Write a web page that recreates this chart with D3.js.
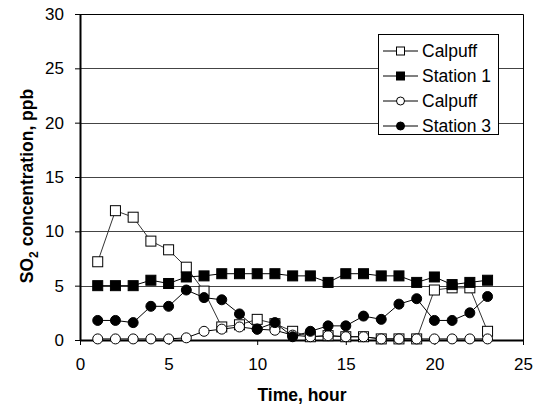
<!DOCTYPE html>
<html>
<head>
<meta charset="utf-8">
<script src="https://cdn.jsdelivr.net/npm/d3@7"></script>
<style>
  body { margin: 0; background: #fff; }
  svg text { font-family: "Liberation Sans", Arial, sans-serif; }
</style>
</head>
<body>
<svg id="chart" width="544" height="407"></svg>
<script>
var hours = [1, 2, 3, 4, 5, 6, 7, 8, 9, 10, 11, 12, 13, 14, 15, 16, 17, 18, 19, 20, 21, 22, 23];
var calpuff1 = [7.2, 11.9, 11.3, 9.1, 8.3, 6.7, 4.5, 1.2, 1.4, 1.9, 1.5, 0.8, 0.3, 0.4, 0.3, 0.3, 0.1, 0.1, 0.1, 4.6, 4.8, 4.8, 0.8];
var station1 = [5.0, 5.0, 5.0, 5.5, 5.2, 5.8, 5.9, 6.1, 6.1, 6.1, 6.1, 5.9, 5.9, 5.3, 6.1, 6.1, 5.9, 5.9, 5.3, 5.8, 5.1, 5.3, 5.5];
var calpuff3 = [0.1, 0.1, 0.1, 0.1, 0.1, 0.2, 0.8, 1.0, 1.2, 1.0, 0.9, 0.45, 0.3, 0.4, 0.3, 0.3, 0.1, 0.1, 0.1, 0.1, 0.1, 0.1, 0.1];
var station3 = [1.8, 1.8, 1.6, 3.1, 3.1, 4.6, 3.9, 3.7, 2.4, 1.0, 1.6, 0.3, 0.8, 1.3, 1.3, 2.2, 1.9, 3.3, 3.8, 1.8, 1.8, 2.5, 4.0];
var xTicks = [0, 5, 10, 15, 20, 25];
var yTicks = [0, 5, 10, 15, 20, 25, 30];

var series = [
  {name: 'Calpuff', values: calpuff1, shape: 'square', fill: '#fff'},
  {name: 'Station 1', values: station1, shape: 'square', fill: '#000'},
  {name: 'Calpuff', values: calpuff3, shape: 'circle', fill: '#fff'},
  {name: 'Station 3', values: station3, shape: 'circle', fill: '#000'}
];

var svg = d3.select('#chart');
var plot = {l: 80, r: 523, t: 14, b: 340};

var x = d3.scaleLinear().domain([0, 25]).range([plot.l, plot.r]);
var y = d3.scaleLinear().domain([0, 30]).range([plot.b, plot.t]);

// gridlines
svg.append('g')
  .selectAll('line')
  .data(yTicks.filter(function(d) { return d > 0 && d < 30; }))
  .enter().append('line')
  .attr('x1', plot.l).attr('x2', plot.r)
  .attr('y1', function(d) { return Math.round(y(d)) + 0.5; })
  .attr('y2', function(d) { return Math.round(y(d)) + 0.5; })
  .attr('stroke', '#444').attr('stroke-width', 1);

// frame top and right
svg.append('path')
  .attr('d', 'M' + plot.l + ',' + (plot.t + 0.5) + 'H' + (plot.r + 0.5) + 'V' + plot.b)
  .attr('fill', 'none').attr('stroke', '#000').attr('stroke-width', 1);

// axes
var xAxis = svg.append('g')
  .attr('transform', 'translate(0,' + plot.b + ')')
  .call(d3.axisBottom(x).tickValues(xTicks).tickSize(5).tickPadding(13).tickSizeOuter(0));
var yAxis = svg.append('g')
  .attr('transform', 'translate(' + plot.l + ',0)')
  .call(d3.axisLeft(y).tickValues(yTicks).tickSize(5).tickPadding(11).tickSizeOuter(0));

[xAxis, yAxis].forEach(function(a) {
  a.select('.domain').attr('stroke', '#000').attr('stroke-width', 2);
  a.selectAll('.tick line').attr('stroke', '#000');
  a.selectAll('.tick text').attr('font-size', 17).attr('fill', '#000')
    .style('font-family', '"Liberation Sans", Arial, sans-serif');
});

// series
var line = d3.line()
  .x(function(d) { return x(d[0]); })
  .y(function(d) { return y(d[1]); });

function marker(g, shape, fill, size) {
  if (shape === 'square') {
    g.append('rect')
      .attr('x', -size / 2).attr('y', -size / 2)
      .attr('width', size).attr('height', size)
      .attr('fill', fill).attr('stroke', '#000').attr('stroke-width', 1);
  } else {
    g.append('circle')
      .attr('r', size / 2)
      .attr('fill', fill).attr('stroke', '#000').attr('stroke-width', 1);
  }
}

series.forEach(function(s) {
  var pts = hours.map(function(h, i) { return [h, s.values[i]]; });
  var g = svg.append('g');
  g.append('path')
    .attr('d', line(pts))
    .attr('fill', 'none')
    .attr('stroke', s.fill === '#fff' && s.shape === 'square' ? '#333' : '#000')
    .attr('stroke-width', 1);
  pts.forEach(function(p) {
    var m = g.append('g').attr('transform', 'translate(' + x(p[0]) + ',' + y(p[1]) + ')');
    marker(m, s.shape, s.fill, 10);
  });
});

// legend
var lg = svg.append('g');
lg.append('rect')
  .attr('x', 378.5).attr('y', 34.5).attr('width', 120).attr('height', 100)
  .attr('fill', '#fff').attr('stroke', '#000').attr('stroke-width', 1);
series.forEach(function(s, i) {
  var cy = 51 + i * 25;
  lg.append('line').attr('x1', 383).attr('x2', 418).attr('y1', cy).attr('y2', cy)
    .attr('stroke', '#000').attr('stroke-width', 1);
  var m = lg.append('g').attr('transform', 'translate(400.5,' + cy + ')');
  marker(m, s.shape, s.fill, 8);
  lg.append('text').attr('x', 422).attr('y', cy + 6)
    .attr('font-size', 17.5).text(s.name);
});

// axis titles
svg.append('text')
  .attr('x', 302).attr('y', 401)
  .attr('text-anchor', 'middle').attr('font-size', 17.5).attr('font-weight', 'bold')
  .text('Time, hour');

var yt = svg.append('text')
  .attr('transform', 'translate(33,186) rotate(-90)')
  .attr('text-anchor', 'middle').attr('font-size', 17.5).attr('font-weight', 'bold');
yt.append('tspan').text('SO');
yt.append('tspan').attr('font-size', 12).attr('dy', 5).text('2');
yt.append('tspan').attr('dy', -5).text(' concentration, ppb');
</script>
</body>
</html>
